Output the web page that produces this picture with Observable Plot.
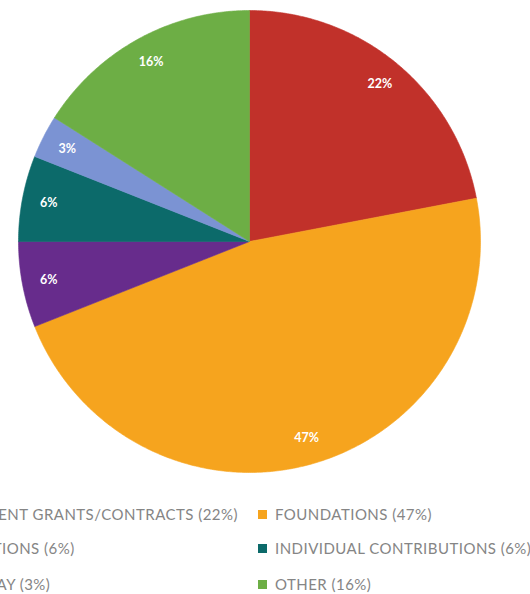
<!DOCTYPE html>
<html>
<head>
<meta charset="utf-8">
<script src="https://cdn.jsdelivr.net/npm/d3@7"></script>
<script src="https://cdn.jsdelivr.net/npm/@observablehq/plot@0.6"></script>
<style>
  html, body { margin: 0; padding: 0; background: #fff; }
  #wrap { width: 530px; height: 594px; overflow: hidden; position: relative; }
  #legend { position: relative; width: 530px; height: 104px; overflow: hidden; font-family: Lato, "Open Sans", sans-serif; font-size: 15px; color: #858585; }
  .item { position: absolute; white-space: nowrap; line-height: 16px; }
  .sw { display: inline-block; width: 9px; height: 9px; margin-right: 8px; vertical-align: 1px; }
  .tx { display: inline-block; }
</style>
</head>
<body>
<div id="wrap"><div id="chart"></div><div id="legend"></div></div>
<script>
const categories = ["GOVERNMENT GRANTS/CONTRACTS", "FOUNDATIONS", "CORPORATIONS", "INDIVIDUAL CONTRIBUTIONS", "UNITED WAY", "OTHER"];
const values = [22, 47, 6, 6, 3, 16];
const colors = ["#c1312a", "#f6a41e", "#672c8c", "#0c6a6a", "#7b93d3", "#6dae45"];

const arcs = d3.pie().sort(null).value(d => d)(values);

// slice outlines (in unit-circle data space, y up)
const outline = [];
arcs.forEach((a, i) => {
  const cat = categories[i];
  outline.push({cat, x: 0, y: 0});
  const n = Math.max(2, Math.ceil((a.endAngle - a.startAngle) / (Math.PI / 360)));
  for (let k = 0; k <= n; k++) {
    const t = a.startAngle + (a.endAngle - a.startAngle) * k / n;
    outline.push({cat, x: Math.sin(t), y: Math.cos(t)});
  }
  outline.push({cat, x: 0, y: 0});
});

const labels = arcs.map((a, i) => {
  const m = (a.startAngle + a.endAngle) / 2;
  return {cat: categories[i], x: 0.885 * Math.sin(m), y: 0.885 * Math.cos(m), text: values[i] + "%"};
});

const chart = Plot.plot({
  width: 530,
  height: 490,
  marginLeft: 18,
  marginRight: 50,
  marginTop: 10,
  marginBottom: 18,
  x: {axis: null, domain: [-1, 1]},
  y: {axis: null, domain: [-1, 1]},
  color: {domain: categories, range: colors},
  marks: [
    Plot.line(outline, {x: "x", y: "y", z: "cat", fill: "cat", stroke: "cat", strokeWidth: 0.6, curve: "linear"}),
    Plot.text(labels, {x: "x", y: "y", text: "text", fill: "white", fontWeight: "bold", fontSize: 12.5, fontFamily: "Lato, sans-serif"})
  ]
});
document.getElementById("chart").appendChild(chart);

// legend (left column is cropped by the image edge, as in the reference)
const legend = document.getElementById("legend");
const rowTop = [16, 50, 86];
const items = categories.map((c, i) => {
  const el = document.createElement("div");
  el.className = "item";
  el.style.top = rowTop[Math.floor(i / 2)] + "px";
  const sw = document.createElement("span");
  sw.className = "sw";
  sw.style.background = colors[i];
  const tx = document.createElement("span");
  tx.className = "tx";
  tx.textContent = `${c} (${values[i]}%)`;
  el.appendChild(sw);
  el.appendChild(tx);
  legend.appendChild(el);
  return {el, tx};
});
// adjust letter spacing so the text spans as in the reference
const ref = items[1].tx;
const w0 = ref.getBoundingClientRect().width;
const ls = Math.max(0, (157 - w0) / ref.textContent.length);
items.forEach(d => d.tx.style.letterSpacing = ls + "px");
// right column: swatch at 258; left column: text ends at 238
items.forEach((d, i) => {
  if (i % 2 === 1) d.el.style.left = "258px";
  else {
    const w = items[0].tx.getBoundingClientRect().width;
    d.el.style.left = (238 - w - 17) + "px";
  }
});
</script>
</body>
</html>
